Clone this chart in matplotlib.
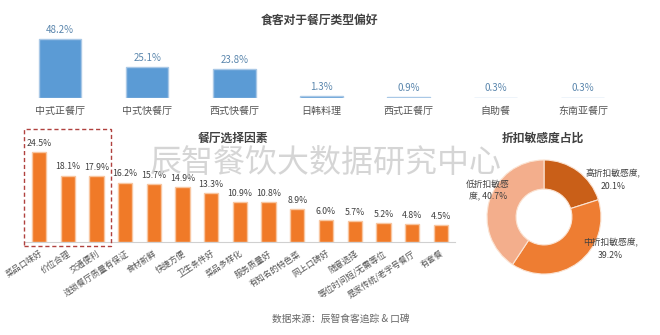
import matplotlib
matplotlib.use("Agg")
import matplotlib.pyplot as plt
from matplotlib.patches import Rectangle

plt.rcParams['font.family'] = ['Noto Sans CJK SC', 'DejaVu Sans']

# ---- data ----
type_cats = ['中式正餐厅', '中式快餐厅', '西式快餐厅', '日韩料理', '西式正餐厅', '自助餐', '东南亚餐厅']
type_vals = [48.2, 25.1, 23.8, 1.3, 0.9, 0.3, 0.3]

factor_cats = ['菜品口味好', '价位合理', '交通便利', '连锁餐厅质量有保证', '食材新鲜', '快捷方便',
               '卫生条件好', '菜品多样化', '服务质量好', '有知名的特色菜', '网上口碑好', '随意选择',
               '等位时间短/无需等位', '是家传统/老字号餐厅', '有套餐']
factor_vals = [24.5, 18.1, 17.9, 16.2, 15.7, 14.9, 13.3, 10.9, 10.8, 8.9, 6.0, 5.7, 5.2, 4.8, 4.5]

sens_labels = ['高折扣敏感度,\n20.1%', '中折扣敏感度,\n39.2%', '低折扣敏感\n度, 40.7%']
sens_vals = [20.1, 39.2, 40.7]

W, H = 660, 335
fig = plt.figure(figsize=(6.6, 3.35), dpi=100)
fig.patch.set_facecolor('white')

def px_axes(left, top, width, height):
    return fig.add_axes([left / W, 1 - (top + height) / H, width / W, height / H])

# ---- top chart ----
ax1 = px_axes(16.4, 28, 610, 70)
x1 = range(len(type_cats))
ax1.bar(x1, type_vals, width=0.49, color='#5b9bd5', edgecolor='#a9c8e6', linewidth=1.0)
ax1.set_xlim(-0.5, 6.5)
ax1.set_ylim(0, 70 / 1.224)
for i, v in enumerate(type_vals):
    ax1.annotate(f'{v:.1f}%', (i, v), xytext=(0, 3), textcoords='offset points',
                 ha='center', va='bottom', fontsize=7, color='#5a86ad')
ax1.set_xticks(list(x1))
ax1.set_xticklabels(type_cats, fontsize=7.2, color='#555555')
ax1.tick_params(axis='x', length=0, pad=6)
ax1.set_yticks([])
for s in ax1.spines.values():
    s.set_visible(False)
fig.text(319 / W, 1 - 20 / H, '食客对于餐厅类型偏好', ha='center', va='center',
         fontsize=8.5, fontweight='bold', color='#404040')

# ---- bottom-left chart ----
ax2 = px_axes(24.65, 130, 430.5, 112)
x2 = range(len(factor_cats))
ax2.bar(x2, factor_vals, width=0.5, color='#f07a28', edgecolor='#f8c6a0', linewidth=1.0)
ax2.set_xlim(-0.5, 14.5)
ax2.set_ylim(0, 112 / 3.67)
for i, v in enumerate(factor_vals):
    ax2.annotate(f'{v:.1f}%', (i, v), xytext=(0, 3), textcoords='offset points',
                 ha='center', va='bottom', fontsize=6.3, color='#404040')
ax2.set_xticks(list(x2))
ax2.set_xticklabels(factor_cats, fontsize=6, color='#555555', rotation=33,
                    ha='right', va='top', rotation_mode='anchor')
ax2.tick_params(axis='x', length=0, pad=5)
ax2.set_yticks([])
for k in ['top', 'left', 'right']:
    ax2.spines[k].set_visible(False)
ax2.spines['bottom'].set_color('#d0d0d0')
ax2.patch.set_alpha(0)
fig.text(233 / W, 1 - 138 / H, '餐厅选择因素', ha='center', va='center',
         fontsize=8.5, fontweight='bold', color='#404040')

# dashed highlight box
fig.patches.append(Rectangle((24 / W, 1 - 246 / H), 87 / W, 117 / H, transform=fig.transFigure,
                             fill=False, edgecolor='#b0413e', linestyle=(0, (3, 2)), linewidth=1.0))

# ---- donut ----
ax3 = px_axes(484, 157, 120, 120)
ax3.pie(sens_vals, colors=['#c95f18', '#ee7d32', '#f3ae8c'], startangle=90, counterclock=False,
        radius=1.0, wedgeprops=dict(width=0.51, edgecolor='#fbe3d2', linewidth=0.8))
ax3.set_xlim(-60 / 57, 60 / 57)
ax3.set_ylim(-60 / 57, 60 / 57)
ax3.set_aspect('equal')
label_pos = [(1.21, 0.65), (1.16, -0.56), (-0.98, 0.46)]
for (lx, ly), t in zip(label_pos, sens_labels):
    ax3.text(lx, ly, t, ha='center', va='center', fontsize=6.3, color='#404040',
             clip_on=False, linespacing=1.5)
fig.text(543 / W, 1 - 138 / H, '折扣敏感度占比', ha='center', va='center',
         fontsize=8.5, fontweight='bold', color='#404040')

# ---- watermark & source ----
fig.text(326 / W, 1 - 164 / H, '辰智餐饮大数据研究中心', ha='center', va='center',
         fontsize=23, color='#c8c8c8', alpha=0.75, fontweight='light', zorder=10)
fig.text(341 / W, 1 - 319 / H, '数据来源：辰智食客追踪 & 口碑', ha='center', va='center',
         fontsize=7, color='#666666')

fig.savefig('out.png', dpi=100)
